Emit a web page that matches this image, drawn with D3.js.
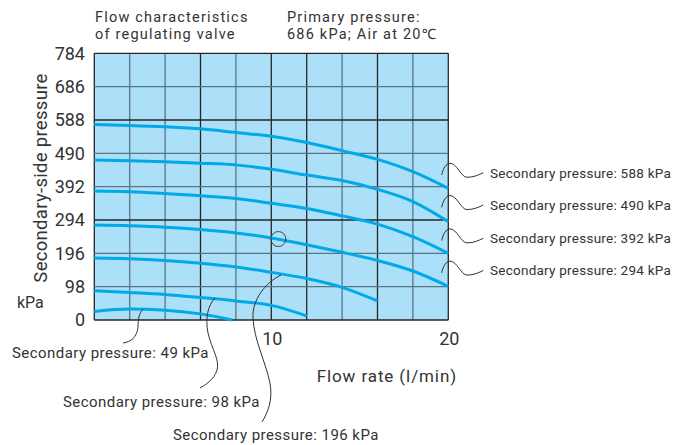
<!DOCTYPE html>
<html>
<head>
<meta charset="utf-8">
<script src="https://cdn.jsdelivr.net/npm/d3@7"></script>
<style>
  body { margin: 0; background: #fff; }
  text { font-family: Roboto, "Noto Sans", sans-serif; fill: #333; }
</style>
</head>
<body>
<svg id="chart"></svg>
<script>
// flow rate (l/min) sample points and secondary pressure (kPa)
const flow = [0, 2, 4, 6, 8, 10, 12, 14, 16, 18, 20];
const p588 = [575, 572, 568, 562, 551, 540, 522, 498, 472, 436, 387];
const p490 = [470, 468, 465, 461, 456, 443, 426, 410, 384, 348, 289];
const p392 = [379, 377, 372, 365, 357, 343, 328, 306, 282, 245, 196];
const p294 = [279, 277, 273, 266, 256, 241, 221, 199, 175, 144, 99];
const flow196 = [0, 2, 4, 6, 8, 10, 12, 14, 16];
const p196 = [182, 180, 175, 167, 156, 140, 122, 96, 56];
const flow98 = [0, 2, 4, 6, 8, 10, 12];
const p98 = [86, 81, 75, 66, 56, 43, 12];
const flow49 = [0, 2, 4, 6, 7.8];
const p49 = [25, 32, 29, 18, 0];

const yTicks = [0, 98, 196, 294, 392, 490, 588, 686, 784];
const xTicks = [0, 2, 4, 6, 8, 10, 12, 14, 16, 18, 20];
const xLabels = [10, 20];
const darkX = [0, 6, 10, 12, 16, 20];
const darkY = [0, 294, 588, 784];

const rightLabels = ["Secondary pressure: 588 kPa", "Secondary pressure: 490 kPa",
                     "Secondary pressure: 392 kPa", "Secondary pressure: 294 kPa"];

const width = 690, height = 445;
const svg = d3.select("#chart").attr("width", width).attr("height", height);

const x = d3.scaleLinear().domain([0, 20]).range([94.3, 448.3]);
const y = d3.scaleLinear().domain([0, 784]).range([320, 53.3]);

// plot background
svg.append("rect")
    .attr("x", x(0)).attr("y", y(784))
    .attr("width", x(20) - x(0)).attr("height", y(0) - y(784))
    .attr("fill", "#acdff8");

// grid
svg.selectAll(".vgrid")
    .data(xTicks)
    .enter().append("line")
    .attr("x1", d => x(d)).attr("x2", d => x(d))
    .attr("y1", y(0)).attr("y2", y(784))
    .attr("stroke", d => darkX.includes(d) ? "#262626" : "#5a7684")
    .attr("stroke-width", 1.3);

svg.selectAll(".hgrid")
    .data(yTicks)
    .enter().append("line")
    .attr("y1", d => y(d)).attr("y2", d => y(d))
    .attr("x1", x(0)).attr("x2", x(20))
    .attr("stroke", d => darkY.includes(d) ? "#262626" : "#5a7684")
    .attr("stroke-width", 1.3);

// curves
const curves = [
    [flow, p588], [flow, p490], [flow, p392], [flow, p294],
    [flow196, p196], [flow98, p98], [flow49, p49]
];
const line = d3.line().x(d => x(d[0])).y(d => y(d[1])).curve(d3.curveMonotoneX);

svg.selectAll(".curve")
    .data(curves)
    .enter().append("path")
    .attr("d", c => line(c[0].map((f, i) => [f, c[1][i]])))
    .attr("fill", "none")
    .attr("stroke", "#00a9e8")
    .attr("stroke-width", 3);

// small circle on the 294 kPa curve
svg.append("circle")
    .attr("cx", x(10.4)).attr("cy", y(238)).attr("r", 7.5)
    .attr("fill", "none").attr("stroke", "#444").attr("stroke-width", 1);

// y tick labels
svg.selectAll(".ytick")
    .data(yTicks)
    .enter().append("text")
    .attr("x", 85).attr("y", d => y(d))
    .attr("dy", "0.36em")
    .attr("text-anchor", "end")
    .style("font-size", "18px")
    .text(d => d);

svg.selectAll(".xtick")
    .data(xLabels)
    .enter().append("text")
    .attr("x", d => x(d) + 1).attr("y", 339)
    .attr("dy", "0.36em")
    .attr("text-anchor", "middle")
    .style("font-size", "18px")
    .text(d => d);

// axis titles
svg.append("text")
    .attr("transform", "translate(47,178) rotate(-90)")
    .attr("text-anchor", "middle")
    .style("font-size", "18.5px")
    .style("letter-spacing", "0.3px")
    .text("Secondary-side pressure");

svg.append("text")
    .attr("x", 17).attr("y", 302).attr("dy", "0.36em")
    .style("font-size", "16px")
    .text("kPa");

svg.append("text")
    .attr("x", 457).attr("y", 376).attr("dy", "0.36em")
    .attr("text-anchor", "end")
    .style("font-size", "17px")
    .style("letter-spacing", "0.9px")
    .text("Flow rate (l/min)");

// titles
const titles = [
    [95, 16.5, "Flow characteristics"], [95, 33.5, "of regulating valve"],
    [287, 16.5, "Primary pressure:"], [287, 33.5, "686 kPa; Air at 20\u2103"]
];
svg.selectAll(".title")
    .data(titles)
    .enter().append("text")
    .attr("x", d => d[0]).attr("y", d => d[1])
    .attr("dy", "0.36em")
    .style("font-size", "14.5px")
    .style("letter-spacing", "1.2px")
    .text(d => d[2]);

// right-hand labels with wavy leaders
const rightY = [172.7, 205, 238.3, 270.5];
rightY.forEach((ly, i) => {
    svg.append("path")
        .attr("d", `M441.7,${ly + 2.3} C443,${ly - 4} 446,${ly - 9.4} 450,${ly - 9.4}
                    C457,${ly - 9.4} 461,${ly + 4.6} 467,${ly + 4.6}
                    C474,${ly + 4.6} 479,${ly + 2} 483.3,${ly}`)
        .attr("fill", "none").attr("stroke", "#333").attr("stroke-width", 1);
    svg.append("text")
        .attr("x", 490).attr("y", ly).attr("dy", "0.36em")
        .style("font-size", "13.5px")
        .style("letter-spacing", "0.25px")
        .text(rightLabels[i]);
});

// bottom labels with leaders
const bottom = [
    ["M143,309 C139,313 138,320 138,327 C137,337 131,342 123,343", 12, 353, "Secondary pressure: 49 kPa"],
    ["M215,298 C208,305 205,318 208,333 C212,350 220,360 217,370 C214,380 205,385 200,388", 63, 402, "Secondary pressure: 98 kPa"],
    ["M281,275 C265,283 252,300 253,318 C254,340 265,360 270,383 C273,400 268,412 262,422", 173, 435, "Secondary pressure: 196 kPa"]
];
bottom.forEach(b => {
    svg.append("path")
        .attr("d", b[0])
        .attr("fill", "none").attr("stroke", "#333").attr("stroke-width", 1);
    svg.append("text")
        .attr("x", b[1]).attr("y", b[2]).attr("dy", "0.36em")
        .style("font-size", "15px")
        .style("letter-spacing", "0.45px")
        .text(b[3]);
});
</script>
</body>
</html>
